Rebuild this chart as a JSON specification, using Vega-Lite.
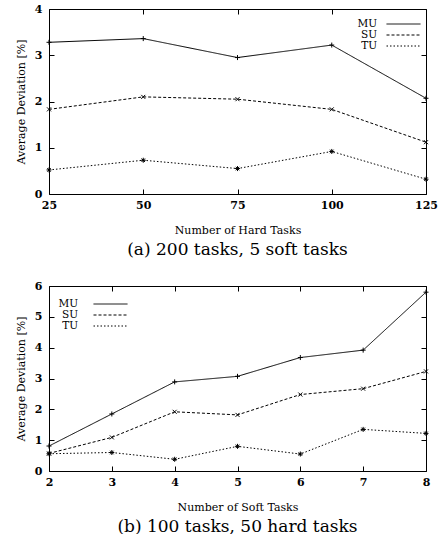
{
  "$schema": "https://vega.github.io/schema/vega-lite/v6.json",
  "padding": {"left": 14, "top": 2, "right": 8, "bottom": 2},
  "spacing": 20,
  "resolve": {"scale": {"strokeDash": "independent", "shape": "independent"}, "legend": {"strokeDash": "independent", "shape": "independent"}},
  "datasets": {
    "hard": [
      {"tasks": 25, "series": "MU", "dev": 3.28},
      {"tasks": 50, "series": "MU", "dev": 3.36},
      {"tasks": 75, "series": "MU", "dev": 2.95},
      {"tasks": 100, "series": "MU", "dev": 3.22},
      {"tasks": 125, "series": "MU", "dev": 2.07},
      {"tasks": 25, "series": "SU", "dev": 1.83},
      {"tasks": 50, "series": "SU", "dev": 2.10},
      {"tasks": 75, "series": "SU", "dev": 2.05},
      {"tasks": 100, "series": "SU", "dev": 1.83},
      {"tasks": 125, "series": "SU", "dev": 1.12},
      {"tasks": 25, "series": "TU", "dev": 0.52},
      {"tasks": 50, "series": "TU", "dev": 0.73},
      {"tasks": 75, "series": "TU", "dev": 0.55},
      {"tasks": 100, "series": "TU", "dev": 0.92},
      {"tasks": 125, "series": "TU", "dev": 0.32}
    ],
    "soft": [
      {"tasks": 2, "series": "MU", "dev": 0.81},
      {"tasks": 3, "series": "MU", "dev": 1.85},
      {"tasks": 4, "series": "MU", "dev": 2.89},
      {"tasks": 5, "series": "MU", "dev": 3.07},
      {"tasks": 6, "series": "MU", "dev": 3.68},
      {"tasks": 7, "series": "MU", "dev": 3.92},
      {"tasks": 8, "series": "MU", "dev": 5.80},
      {"tasks": 2, "series": "SU", "dev": 0.57},
      {"tasks": 3, "series": "SU", "dev": 1.09},
      {"tasks": 4, "series": "SU", "dev": 1.92},
      {"tasks": 5, "series": "SU", "dev": 1.82},
      {"tasks": 6, "series": "SU", "dev": 2.48},
      {"tasks": 7, "series": "SU", "dev": 2.67},
      {"tasks": 8, "series": "SU", "dev": 3.23},
      {"tasks": 2, "series": "TU", "dev": 0.56},
      {"tasks": 3, "series": "TU", "dev": 0.60},
      {"tasks": 4, "series": "TU", "dev": 0.38},
      {"tasks": 5, "series": "TU", "dev": 0.80},
      {"tasks": 6, "series": "TU", "dev": 0.55},
      {"tasks": 7, "series": "TU", "dev": 1.35},
      {"tasks": 8, "series": "TU", "dev": 1.22}
    ]
  },
  "vconcat": [
    {
      "width": 377,
      "height": 185,
      "data": {"name": "hard"},
      "title": {"text": "(a) 200 tasks, 5 soft tasks", "orient": "bottom"},
      "resolve": {"axis": {"x": "independent", "y": "independent"}},
      "layer": [
        {
          "mark": {"type": "line", "color": "black", "strokeWidth": 1},
          "encoding": {
            "x": {"field": "tasks", "type": "quantitative", "scale": {"domain": [25, 125], "nice": false, "zero": false},
                  "axis": {"orient": "bottom", "values": [25, 50, 75, 100, 125], "title": "Number of Hard Tasks"}},
            "y": {"field": "dev", "type": "quantitative", "scale": {"domain": [0, 4], "nice": false},
                  "axis": {"orient": "left", "values": [0, 1, 2, 3, 4], "title": "Average Deviation [%]"}},
            "strokeDash": {"field": "series", "type": "nominal",
              "scale": {"domain": ["MU", "SU", "TU"], "range": [[1, 0], [3, 2], [1.5, 2]]},
              "legend": {"orient": "none", "legendX": 349, "legendY": 9.5, "labelOffset": -32}}
          }
        },
        {
          "mark": {"type": "point", "color": "black", "filled": false, "strokeWidth": 1, "size": 25, "opacity": 1},
          "encoding": {
            "x": {"field": "tasks", "type": "quantitative",
                  "axis": {"orient": "top", "labels": false, "title": null, "values": [25, 50, 75, 100, 125]}},
            "y": {"field": "dev", "type": "quantitative",
                  "axis": {"orient": "right", "labels": false, "title": null, "values": [0, 1, 2, 3, 4]}},
            "shape": {"field": "series", "type": "nominal", "legend": null,
              "scale": {"domain": ["TU", "SU", "MU"], "range": ["M-1,0L1,0M0,-1L0,1M-0.7,-0.7L0.7,0.7M-0.7,0.7L0.7,-0.7", "M-0.8,-0.8L0.8,0.8M-0.8,0.8L0.8,-0.8", "M-1,0L1,0M0,-1L0,1"]}}
          }
        }
      ]
    },
    {
      "width": 377,
      "height": 185,
      "data": {"name": "soft"},
      "title": {"text": "(b) 100 tasks, 50 hard tasks", "orient": "bottom"},
      "resolve": {"axis": {"x": "independent", "y": "independent"}},
      "layer": [
        {
          "mark": {"type": "line", "color": "black", "strokeWidth": 1},
          "encoding": {
            "x": {"field": "tasks", "type": "quantitative", "scale": {"domain": [2, 8], "nice": false, "zero": false},
                  "axis": {"orient": "bottom", "values": [2, 3, 4, 5, 6, 7, 8], "title": "Number of Soft Tasks"}},
            "y": {"field": "dev", "type": "quantitative", "scale": {"domain": [0, 6], "nice": false},
                  "axis": {"orient": "left", "values": [0, 1, 2, 3, 4, 5, 6], "title": "Average Deviation [%]"}},
            "strokeDash": {"field": "series", "type": "nominal",
              "scale": {"domain": ["MU", "SU", "TU"], "range": [[1, 0], [3, 2], [1.5, 2]]},
              "legend": {"orient": "none", "legendX": 56, "legendY": 12.5, "labelOffset": -38}}
          }
        },
        {
          "mark": {"type": "point", "color": "black", "filled": false, "strokeWidth": 1, "size": 25, "opacity": 1},
          "encoding": {
            "x": {"field": "tasks", "type": "quantitative",
                  "axis": {"orient": "top", "labels": false, "title": null, "values": [2, 3, 4, 5, 6, 7, 8]}},
            "y": {"field": "dev", "type": "quantitative",
                  "axis": {"orient": "right", "labels": false, "title": null, "values": [0, 1, 2, 3, 4, 5, 6]}},
            "shape": {"field": "series", "type": "nominal", "legend": null,
              "scale": {"domain": ["TU", "SU", "MU"], "range": ["M-1,0L1,0M0,-1L0,1M-0.7,-0.7L0.7,0.7M-0.7,0.7L0.7,-0.7", "M-0.8,-0.8L0.8,0.8M-0.8,0.8L0.8,-0.8", "M-1,0L1,0M0,-1L0,1"]}}
          }
        }
      ]
    }
  ],
  "config": {
    "font": "DejaVu Serif",
    "view": {"stroke": "black", "strokeWidth": 1},
    "axis": {
      "grid": false,
      "domain": false,
      "tickSize": -5,
      "tickColor": "black",
      "tickWidth": 1,
      "labelFont": "DejaVu Serif",
      "labelFontSize": 11,
      "labelFontWeight": "bold",
      "labelColor": "black",
      "labelFlush": false,
      "labelOverlap": false,
      "titleFont": "DejaVu Serif",
      "titleFontSize": 11,
      "titleFontWeight": "normal",
      "titleColor": "black"
    },
    "axisX": {"titlePadding": 14, "labelPadding": 10},
    "axisY": {"titlePadding": 8, "labelPadding": 12},
    "legend": {
      "title": null,
      "padding": 0,
      "labelFont": "DejaVu Serif",
      "labelFontSize": 10.5,
      "labelColor": "black",
      "labelAlign": "right",
      "symbolType": "M-3.4,0L3.4,0",
      "symbolSize": 100,
      "symbolStrokeColor": "black",
      "symbolStrokeWidth": 1,
      "symbolFillColor": "transparent",
      "rowPadding": -1
    },
    "title": {"font": "DejaVu Serif", "fontSize": 17, "fontWeight": "normal", "color": "black", "offset": 7}
  }
}
